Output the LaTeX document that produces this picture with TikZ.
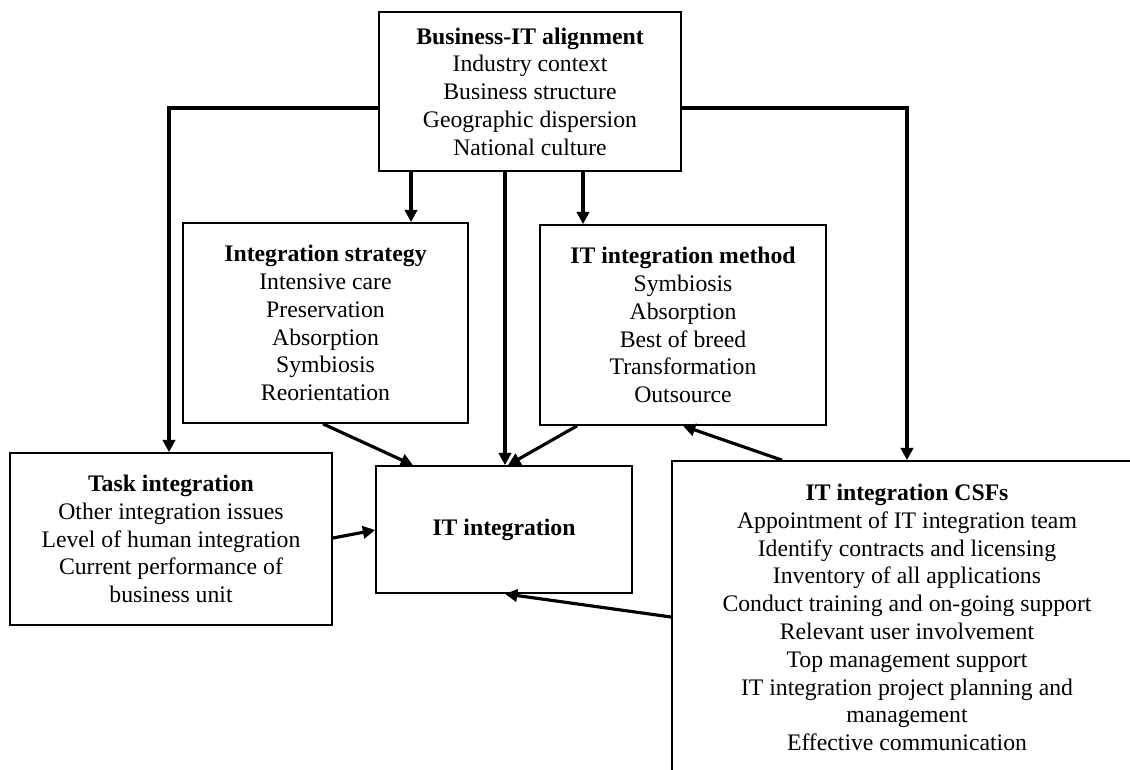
\documentclass[tikz,border=0pt]{standalone}
\usepackage{fontspec}
\setmainfont{Liberation Serif}
\usetikzlibrary{arrows.meta}
\tikzset{
  box/.style={draw, line width=1pt, inner sep=0pt, align=center, font=\fontsize{13.5}{15.8}\selectfont},
  arr/.style={line width=1.8pt, -{Triangle[length=7pt,width=7pt]}}
}
\begin{document}
\begin{tikzpicture}[x=0.02cm, y=-0.02cm]
\clip (0,0) rectangle (1130,769);
\fill[white] (0,0) rectangle (1130,769);
\node[box, minimum width=6.04cm, minimum height=3.18cm] (top) at (530,91.5)
  {\textbf{Business-IT alignment}\\Industry context\\Business structure\\Geographic dispersion\\National culture};
\node[box, minimum width=5.70cm, minimum height=4.00cm] (strat) at (325.5,323)
  {\textbf{Integration strategy}\\Intensive care\\Preservation\\Absorption\\Symbiosis\\Reorientation};
\node[box, minimum width=5.72cm, minimum height=4.00cm] (method) at (683,325)
  {\textbf{IT integration method}\\Symbiosis\\Absorption\\Best of breed\\Transformation\\Outsource};
\node[box, minimum width=6.44cm, minimum height=3.44cm] (task) at (171,539)
  {\textbf{Task integration}\\Other integration issues\\Level of human integration\\Current performance of\\business unit};
\node[box, minimum width=5.12cm, minimum height=2.54cm] (iti) at (504,529.5)
  {\textbf{IT integration}};
\node[box, minimum width=9.40cm, minimum height=6.26cm] (csf) at (907,617.5)
  {\textbf{IT integration CSFs}\\Appointment of IT integration team\\Identify contracts and licensing\\Inventory of all applications\\Conduct training and on-going support\\Relevant user involvement\\Top management support\\IT integration project planning and\\management\\Effective communication};
\coordinate (y108) at (0,108);
\coordinate (y538) at (0,538);
\coordinate (y530) at (0,530);
\coordinate (y617) at (0,617);
\coordinate (x169) at (169,0);
\coordinate (x411) at (411,0);
\coordinate (x583) at (583,0);
\coordinate (x505) at (505,0);
\coordinate (x323) at (323,0);
\coordinate (x413) at (413,0);
\coordinate (x577) at (577,0);
\coordinate (x508) at (508,0);
\coordinate (x782) at (782,0);
\coordinate (x683) at (683,0);
\draw[arr] (top.west |- y108) -| (task.north -| x169);
\draw[arr] (top.east |- y108) -| (csf.north);
\draw[arr] (top.south -| x411) -- (strat.north -| x411);
\draw[arr] (top.south -| x583) -- (method.north -| x583);
\draw[arr] (top.south -| x505) -- (iti.north -| x505);
\draw[arr] (strat.south -| x323) -- (iti.north -| x413);
\draw[arr] (method.south -| x577) -- (iti.north -| x508);
\draw[arr] (csf.north -| x782) -- (method.south -| x683);
\draw[arr] (task.east |- y538) -- (iti.west |- y530);
\draw[arr] (csf.west |- y617) -- (iti.south -| x505);
\end{tikzpicture}
\end{document}
